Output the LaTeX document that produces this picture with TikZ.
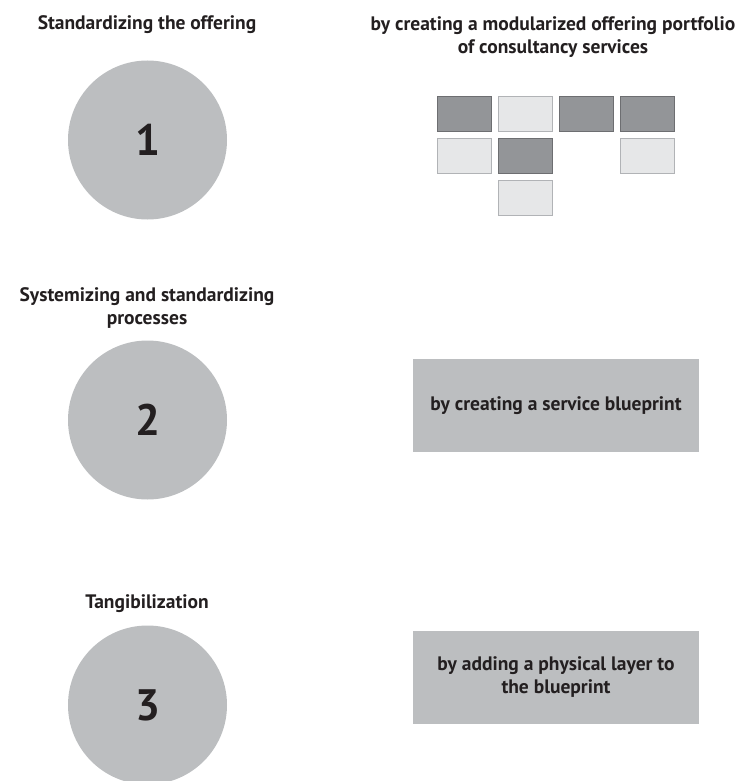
\documentclass[tikz,border=0pt]{standalone}
\usepackage{fontspec}
\setmainfont{PT Sans}
\usetikzlibrary{positioning}

\definecolor{ink}{HTML}{231F20}
\definecolor{discgray}{HTML}{BCBEC0}
\definecolor{moddark}{HTML}{939598}
\definecolor{moddarkline}{HTML}{6D6E71}
\definecolor{modlight}{HTML}{E6E7E8}
\definecolor{modlightline}{HTML}{B1B3B6}

\tikzset{
  disc/.style={circle, fill=discgray, minimum size=159pt, inner sep=0pt,
    text=ink, font=\fontsize{44}{48}\selectfont\bfseries},
  steptitle/.style={text=ink, align=center, font=\fontsize{19.5}{22.5}\selectfont\bfseries},
  howbox/.style={fill=discgray, minimum width=286pt, minimum height=93pt,
    inner sep=0pt, text=ink, align=center, font=\fontsize{19.5}{23}\selectfont\bfseries},
  moddk/.style={draw=moddarkline, fill=moddark, line width=0.8pt,
    minimum width=54pt, minimum height=35pt, inner sep=0pt},
  modlt/.style={draw=modlightline, fill=modlight, line width=0.8pt,
    minimum width=54pt, minimum height=35pt, inner sep=0pt},
  node distance=6pt
}

\begin{document}
\begin{tikzpicture}[x=1pt, y=-1pt]
\useasboundingbox (0,0) rectangle (755,781);

% step 1
\node[steptitle] (t1) at (147,25) {Standardizing the offering};
\node[disc] (d1) at (147.5,140) {1};
\node[steptitle] (h1) at (553,37) {by creating a modularized offering portfolio\\of consultancy services};

% modules
\node[moddk] (m11) at (464.5,114) {};
\node[modlt, right=of m11] (m12) {};
\node[moddk, right=of m12] (m13) {};
\node[moddk, right=of m13] (m14) {};
\node[modlt, below=of m11] (m21) {};
\node[moddk, below=of m12] (m22) {};
\node[modlt, below=of m14] (m24) {};
\node[modlt, below=of m22] (m32) {};

% step 2
\node[steptitle] (t2) at (147,308) {Systemizing and standardizing\\processes};
\node[disc] (d2) at (147.5,420) {2};
\node[howbox] (h2) at (556,405.5) {by creating a service blueprint};

% step 3
\node[steptitle] (t3) at (147,604) {Tangibilization};
\node[disc] (d3) at (147.5,705) {3};
\node[howbox] (h3) at (556,677.5) {by adding a physical layer to\\the blueprint};
\end{tikzpicture}
\end{document}
